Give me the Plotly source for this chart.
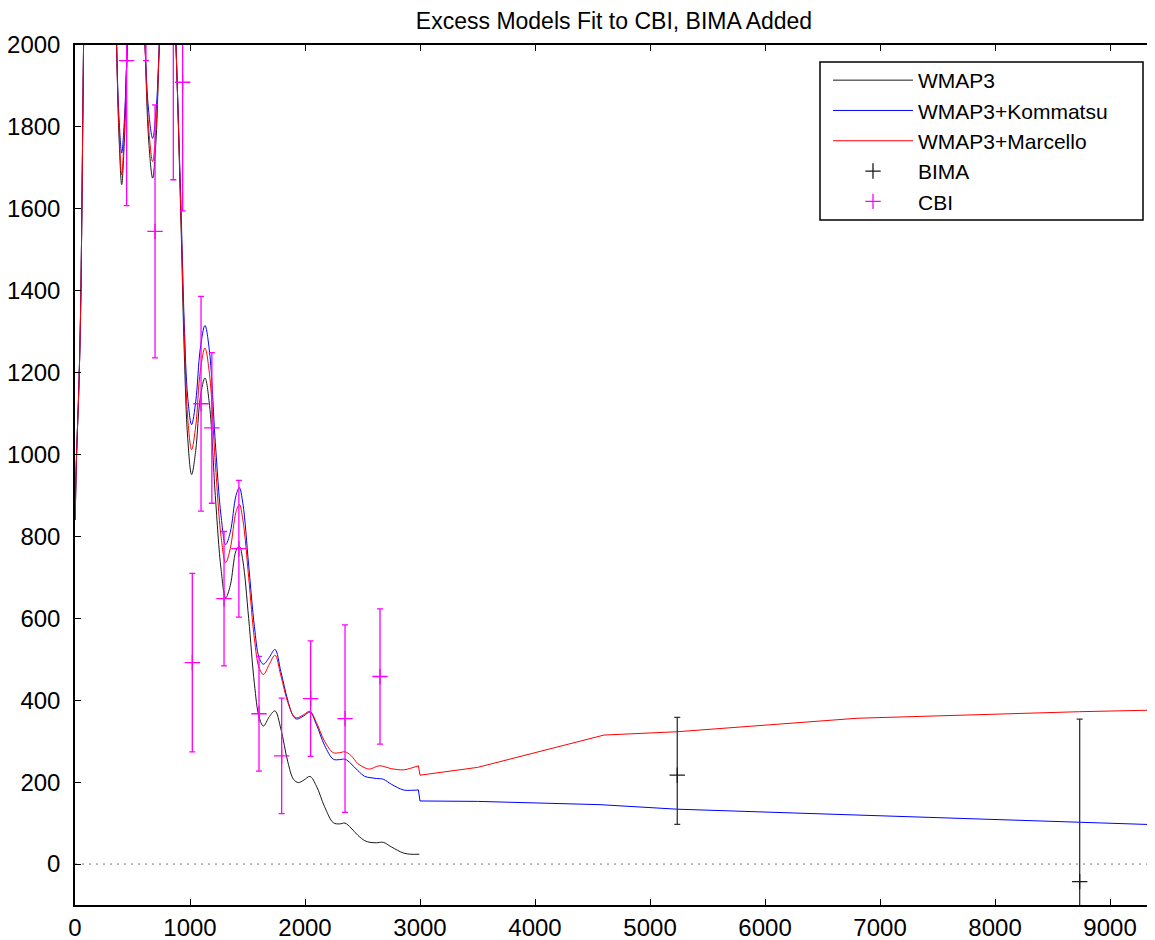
import plotly.graph_objects as go

# ---------------- data ----------------
ell_wmap3 = [2, 10, 20, 30, 40, 50, 60, 70, 80, 150, 220, 300, 362, 385, 406, 428, 455, 540, 609, 640,
             675, 705, 733, 810, 878, 922, 950, 980, 1014, 1050, 1090, 1130, 1170, 1220, 1270, 1310,
             1350, 1400, 1429, 1460, 1510, 1560, 1600, 1638, 1690, 1739, 1790, 1850, 1900, 1942, 1990,
             2043, 2100, 2170, 2246, 2300, 2348, 2400, 2460, 2520, 2565, 2620, 2681, 2750, 2855, 2920, 2994]
dl_wmap3 = [840, 960, 1050, 1130, 1230, 1370, 1600, 1880, 2150, 4200, 5500, 3500, 2000, 1760, 1659, 1760,
            2000, 2550, 2000, 1770, 1675, 1770, 2000, 2500, 2000, 1560, 1250, 1040, 951, 1010, 1140, 1187,
            1120, 900, 720, 650, 680, 765, 776, 740, 600, 440, 360, 337, 360, 374, 330, 250, 207, 199, 205,
            214, 190, 140, 101, 98, 100, 88, 70, 57, 53, 52, 53, 42, 27, 24, 24]

ell_kom = [2, 10, 20, 30, 40, 50, 60, 70, 80, 150, 220, 300, 362, 385, 406, 428, 455, 540, 609, 640,
           675, 705, 733, 810, 878, 922, 950, 980, 1014, 1050, 1090, 1130, 1170, 1220, 1270, 1310,
           1350, 1400, 1429, 1460, 1510, 1560, 1600, 1638, 1690, 1739, 1790, 1850, 1900, 1928, 1990,
           2043, 2100, 2170, 2246, 2300, 2348, 2400, 2460, 2520, 2565, 2620, 2681, 2750, 2855, 2920, 2986]
dl_kom = [845, 965, 1055, 1135, 1235, 1375, 1605, 1885, 2155, 4250, 5550, 3550, 2000, 1810, 1736, 1810,
          2000, 2600, 2000, 1840, 1772, 1840, 2000, 2550, 2000, 1600, 1320, 1140, 1073, 1130, 1260, 1315,
          1250, 1030, 850, 780, 810, 900, 919, 880, 730, 580, 505, 488, 505, 524, 470, 400, 360, 354, 362,
          371, 340, 290, 256, 255, 256, 245, 228, 214, 211, 209, 207, 195, 181, 180, 181]
ell_kom_hi = [2986, 3000, 3500, 4565, 5232, 8736, 9400]
dl_kom_hi = [181, 154, 153, 145, 134, 103, 96]

ell_mar = [2, 10, 20, 30, 40, 50, 60, 70, 80, 150, 220, 300, 362, 385, 406, 428, 455, 540, 609, 640,
           675, 705, 733, 810, 878, 922, 950, 980, 1014, 1050, 1090, 1130, 1170, 1220, 1270, 1310,
           1350, 1400, 1429, 1460, 1510, 1560, 1600, 1638, 1690, 1739, 1790, 1850, 1900, 1928, 1990,
           2043, 2100, 2170, 2246, 2300, 2348, 2400, 2460, 2520, 2565, 2620, 2652, 2700, 2750, 2855, 2920, 2986]
dl_mar = [842, 962, 1052, 1132, 1232, 1372, 1602, 1882, 2152, 4220, 5520, 3520, 2000, 1780, 1683, 1780,
          2000, 2580, 2000, 1800, 1715, 1800, 2000, 2520, 2000, 1580, 1290, 1090, 1012, 1070, 1205, 1260,
          1195, 980, 800, 736, 770, 860, 878, 840, 700, 550, 480, 463, 488, 510, 460, 395, 362, 357, 365,
          373, 345, 300, 272, 272, 274, 265, 245, 235, 232, 238, 240, 237, 233, 230, 234, 240]
ell_mar_hi = [2986, 3000, 3500, 4600, 5232, 6304, 6800, 8736, 9400]
dl_mar_hi = [240, 217, 236, 315, 323, 345, 356, 372, 376]

bima_ell = [5237, 8736]
bima_dl = [217, -43]
bima_err_plus = [141, 397]
bima_err_minus = [120, 397]

cbi_ell = [449, 617, 696, 855, 936, 1020, 1096, 1190, 1296, 1425, 1600, 1797, 2049, 2348, 2652]
cbi_dl = [1962, 2400, 1545, 2250, 1909, 492, 1124, 1065, 648, 770, 367, 264, 404, 355, 458]
cbi_err = [354, 438, 309, 579, 314, 218, 262, 184, 164, 167, 140, 141, 141, 229, 165]

x_ticks = [0, 1000, 2000, 3000, 4000, 5000, 6000, 7000, 8000, 9000]
y_ticks = [0, 200, 400, 600, 800, 1000, 1200, 1400, 1600, 1800, 2000]

# ---------------- figure ----------------
FONT = "Liberation Sans, Arial, sans-serif"
BLACK = "#1a1a1a"
BLUE = "#0000ff"
RED = "#ff0000"
MAGENTA = "#ff00ff"

W, H = 1147, 932          # page body has an 8px margin
ML, MR, MT, MB = 67, 0, 37, 35
OFF = 8                   # body offset in screen pixels
plot_w = W - ML - MR
plot_h = H - MT - MB


def px_x(sx):
    return (sx - OFF - ML) / plot_w


def px_y(sy):
    return 1 - (sy - OFF - MT) / plot_h


fig = go.Figure()

fig.add_trace(go.Scatter(x=ell_wmap3, y=dl_wmap3, mode="lines", name="WMAP3",
                         line=dict(color=BLACK, width=1, shape="spline"), legendgroup="w"))
fig.add_trace(go.Scatter(x=ell_kom, y=dl_kom, mode="lines", name="WMAP3+Kommatsu",
                         line=dict(color=BLUE, width=1, shape="spline"), legendgroup="k"))
fig.add_trace(go.Scatter(x=ell_kom_hi, y=dl_kom_hi, mode="lines", name="WMAP3+Kommatsu",
                         line=dict(color=BLUE, width=1), legendgroup="k", showlegend=False))
fig.add_trace(go.Scatter(x=ell_mar, y=dl_mar, mode="lines", name="WMAP3+Marcello",
                         line=dict(color=RED, width=1, shape="spline"), legendgroup="m"))
fig.add_trace(go.Scatter(x=ell_mar_hi, y=dl_mar_hi, mode="lines", name="WMAP3+Marcello",
                         line=dict(color=RED, width=1), legendgroup="m", showlegend=False))

fig.add_trace(go.Scatter(x=bima_ell, y=bima_dl, mode="markers", name="BIMA",
                         marker=dict(symbol="cross-thin", size=11, line=dict(color=BLACK, width=1.3), color=BLACK),
                         error_y=dict(type="data", array=bima_err_plus, arrayminus=bima_err_minus,
                                      symmetric=False, color="#333333", thickness=1.3, width=3)))
fig.add_trace(go.Scatter(x=cbi_ell, y=cbi_dl, mode="markers", name="CBI",
                         marker=dict(symbol="cross-thin", size=11, line=dict(color=MAGENTA, width=1.3), color=MAGENTA),
                         error_y=dict(type="data", array=cbi_err, color=MAGENTA, thickness=1.3, width=3)))

# dotted zero line
fig.add_shape(type="line", xref="paper", x0=0, x1=1, yref="y", y0=0, y1=0,
              line=dict(color="#777777", width=1, dash="2px,5px"), layer="below")

# legend frame
fig.add_shape(type="rect", xref="paper", yref="paper",
              x0=px_x(820), x1=px_x(1143), y0=px_y(220), y1=px_y(62),
              line=dict(color="black", width=1.5), fillcolor="white", layer="below")

fig.update_layout(
    width=W, height=H,
    margin=dict(l=ML, r=MR, t=MT, b=MB, autoexpand=False),
    paper_bgcolor="white", plot_bgcolor="white",
    font=dict(family=FONT, size=24, color="black"),
    title=dict(text="Excess Models Fit to CBI, BIMA Added", x=(614 - OFF) / W, xanchor="center",
               y=1 - 13 / H, yref="container", yanchor="middle",
               font=dict(family=FONT, size=23, color="black")),
    showlegend=True,
    legend=dict(x=px_x(828), y=px_y(60), xanchor="left", yanchor="top",
                bgcolor="rgba(0,0,0,0)", borderwidth=0,
                font=dict(family=FONT, size=21, color="black"),
                itemwidth=80, tracegroupgap=0),
)

fig.update_xaxes(range=[0, 9391], tickvals=x_ticks, ticks="inside", ticklen=6, tickcolor="black",
                 showline=True, linecolor="black", linewidth=1.5, mirror="ticks",
                 showgrid=False, zeroline=False, tickfont=dict(family=FONT, size=24, color="black"))
fig.update_yaxes(range=[-100, 2000], tickvals=y_ticks, ticks="inside", ticklen=6, tickcolor="black",
                 showline=True, linecolor="black", linewidth=1.5, mirror=False,
                 showgrid=False, zeroline=False, ticklabelstandoff=8,
                 tickfont=dict(family=FONT, size=24, color="black"))

fig.write_html("out.html")
